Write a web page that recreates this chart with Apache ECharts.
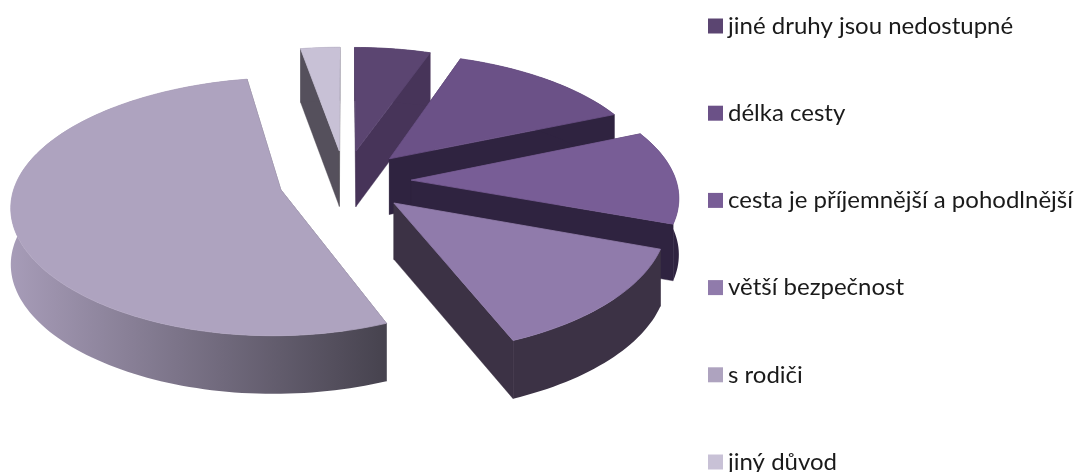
<!DOCTYPE html>
<html><head><meta charset="utf-8">
<style>html,body{margin:0;padding:0;background:#fff}#c{width:1078px;height:472px}</style>
<script src="https://cdn.jsdelivr.net/npm/echarts@6/dist/echarts.min.js"></script>
</head><body><div id="c"></div>
<script>
var categories = ['jiné druhy jsou nedostupné','délka cesty','cesta je příjemnější a pohodlnější','větší bezpečnost','s rodiči','jiný důvod'];
var values = [5.4, 13.2, 11.9, 13.3, 53.4, 2.8];
var topColors = ['#5b4571','#6b5187','#785d96','#907bab','#aea3bf','#c8c1d6'];
var wallColors = ['#473459','#2f2340','#2f2340','#3c3245',null,'#55505c'];

var CX = 345, CY = 181, RX = 265, RY = 124.5, K = 0.13, KX = 0.12, EXPLODE = 0.25, STEP = 1.5;
var total = values.reduce(function(a,b){return a+b;},0);
var arcs = [], acc = 0;
values.forEach(function(v){ var a0 = acc/total*2*Math.PI; acc += v; arcs.push([a0, acc/total*2*Math.PI]); });

function proj(u, v, down){
  return [CX + RX*u*(1+KX*v), CY + RY*v/(1-K*v) + (down ? 56 + 2*v : 0)];
}
function makeRender(idx){
  return function(params, api){
    var a0 = arcs[idx][0], a1 = arcs[idx][1], m = (a0+a1)/2;
    var eu = EXPLODE*Math.sin(m), ev = -EXPLODE*Math.cos(m);
    var rim = [], n = Math.max(2, Math.ceil((a1-a0)/(STEP*Math.PI/180)));
    for (var i=0;i<=n;i++){ var a = a0+(a1-a0)*i/n; rim.push([eu+Math.sin(a), ev-Math.cos(a)]); }
    var P = function(p,d){return proj(p[0],p[1],d);};
    var apex = [eu,ev], first = rim[0], last = rim[rim.length-1];
    var wallFill = wallColors[idx] || new echarts.graphic.LinearGradient(10,0,383,0,[{offset:0,color:'#a79cb8'},{offset:1,color:'#47434f'}],true);
    var sideFill = wallColors[idx] || '#47434f';
    var outer = rim.map(function(p){return P(p,false);}).concat(rim.slice().reverse().map(function(p){return P(p,true);}));
    var face = [P(apex,false)].concat(rim.map(function(p){return P(p,false);}));
    function quad(q){return {type:'polygon',shape:{points:[P(apex,false),P(q,false),P(q,true),P(apex,true)]},style:{fill:sideFill,stroke:sideFill,lineWidth:0.4},silent:true};}
    return {type:'group',children:[
      quad(first), quad(last),
      {type:'polygon',shape:{points:outer},style:{fill:wallFill},silent:true},
      {type:'polygon',shape:{points:face},style:{fill:topColors[idx],stroke:topColors[idx],lineWidth:0.8},silent:true}
    ]};
  };
}
var depth = arcs.map(function(a){return -Math.cos((a[0]+a[1])/2);});
var order = depth.map(function(d,i){return i;}).sort(function(a,b){return depth[a]-depth[b];});
var chart = echarts.init(document.getElementById('c'),null,{renderer:'canvas'});
chart.setOption({
  animation:false,
  backgroundColor:'#fff',
  legend:{
    orient:'vertical', left:703, top:9, height:600, itemWidth:15, itemHeight:15, itemGap:63.2,
    icon:'rect', data:categories, selectedMode:false,
    textStyle:{fontFamily:'Lato',fontSize:24,color:'#1a1a1a',lineHeight:24}
  },
  series:categories.map(function(name,i){
    return {type:'custom',name:name,coordinateSystem:'none',z:2+order.indexOf(i),clip:false,
      itemStyle:{color:topColors[i]},data:[[values[i]]],renderItem:makeRender(i)};
  })
});
</script></body></html>
